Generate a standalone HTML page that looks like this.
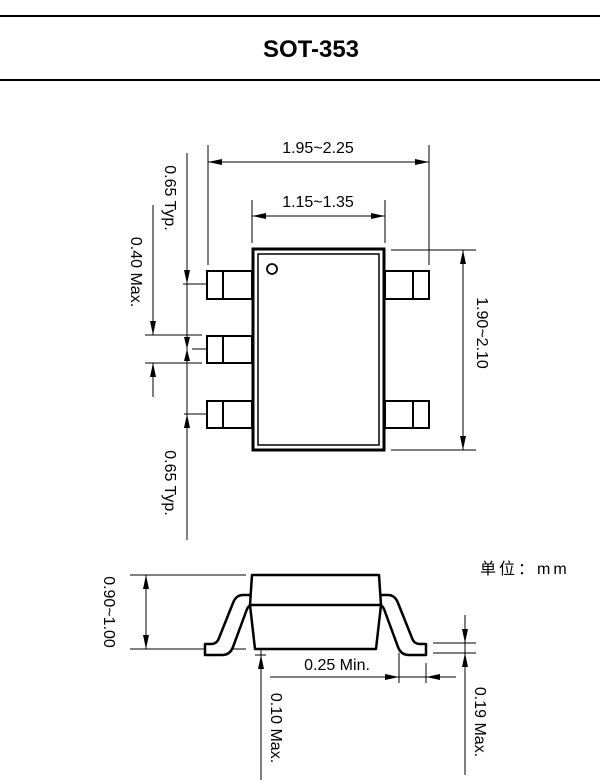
<!DOCTYPE html>
<html><head><meta charset="utf-8"><style>
html,body{margin:0;padding:0;background:#fff;width:600px;height:780px;overflow:hidden}
svg{display:block}
text{font-family:"Liberation Sans",Arial,sans-serif;fill:#000}
</style></head><body>
<svg width="600" height="780" viewBox="0 0 600 780" xmlns="http://www.w3.org/2000/svg">
<line x1="0" y1="16" x2="600" y2="16" stroke="#000" stroke-width="2"/>
<line x1="0" y1="80" x2="600" y2="80" stroke="#000" stroke-width="2"/>
<text x="311" y="57" font-size="24" font-weight="bold" text-anchor="middle">SOT-353</text>

<g stroke="#000" fill="none" stroke-width="1">
<line x1="208" y1="145" x2="208" y2="265"/>
<line x1="429" y1="145" x2="429" y2="265"/>
<line x1="208" y1="162" x2="429" y2="162"/>
<line x1="252" y1="200" x2="252" y2="243"/>
<line x1="385" y1="200" x2="385" y2="243"/>
<line x1="252" y1="216" x2="385" y2="216"/>
<line x1="391" y1="250" x2="476" y2="250"/>
<line x1="391" y1="450" x2="476" y2="450"/>
<line x1="463" y1="250" x2="463" y2="450"/>
<line x1="187" y1="153" x2="187" y2="540"/>
<line x1="183" y1="284" x2="207" y2="284"/>
<line x1="192" y1="349" x2="207" y2="349"/>
<line x1="184" y1="414" x2="207" y2="414"/>
<line x1="153" y1="205" x2="153" y2="335"/>
<line x1="153" y1="363" x2="153" y2="397"/>
<line x1="145" y1="335" x2="202" y2="335"/>
<line x1="145" y1="363" x2="202" y2="363"/>
<line x1="130" y1="575" x2="246" y2="575"/>
<line x1="130" y1="649" x2="246" y2="649"/>
<line x1="146" y1="575" x2="146" y2="649"/>
<line x1="261" y1="620" x2="261" y2="780"/>
<line x1="255" y1="655" x2="266" y2="655"/>
<line x1="399" y1="653" x2="399" y2="683"/>
<line x1="426" y1="663" x2="426" y2="683"/>
<line x1="270" y1="677" x2="456" y2="677"/>
<line x1="433" y1="643" x2="476" y2="643"/>
<line x1="433" y1="653" x2="476" y2="653"/>
<line x1="465" y1="615" x2="465" y2="775"/>
</g>
<g fill="#000">
<path d="M208,162 l14,-3 v6z"/><path d="M429,162 l-14,-3 v6z"/>
<path d="M252,216 l14,-3 v6z"/><path d="M385,216 l-14,-3 v6z"/>
<path d="M463,250 l-3,14 h6z"/><path d="M463,450 l-3,-14 h6z"/>
<path d="M187,284 l-3,-14 h6z"/>
<path d="M187,349 l-3,-12 h6z"/><path d="M187,349 l-3,12 h6z"/>
<path d="M187,414 l-3,14 h6z"/>
<path d="M153,335 l-3,-14 h6z"/><path d="M153,363 l-3,14 h6z"/>
<path d="M146,575 l-3,14 h6z"/><path d="M146,649 l-3,-14 h6z"/>
<path d="M261,649 l-3,-14 h6z"/><path d="M261,655 l-3,14 h6z"/>
<path d="M399,677 l-14,-3 v6z"/><path d="M426,677 l14,-3 v6z"/>
<path d="M465,643 l-3,-14 h6z"/><path d="M465,653 l-3,14 h6z"/>
</g>

<g stroke="#000" fill="#fff" stroke-width="2">
<rect x="207" y="271" width="45" height="28"/><line x1="223" y1="271" x2="223" y2="299"/>
<rect x="207" y="336" width="45" height="27"/><line x1="223" y1="336" x2="223" y2="363"/>
<rect x="207" y="401" width="45" height="27"/><line x1="223" y1="401" x2="223" y2="428"/>
<rect x="385" y="271" width="44" height="28"/><line x1="413" y1="271" x2="413" y2="299"/>
<rect x="385" y="401" width="44" height="27"/><line x1="413" y1="401" x2="413" y2="428"/>
<rect x="253" y="249" width="131" height="201" stroke-width="3"/>
<rect x="258" y="254" width="121" height="191" stroke-width="1.5"/>
<circle cx="272" cy="269" r="5" stroke-width="1.8"/>
</g>

<g stroke="#000" fill="#fff" stroke-width="2.5" stroke-linejoin="round">
<path d="M252,595 H243 Q236,595 233,603 L219,638 Q217,644 211,644 H205 V655 H222 Q230,655 233,647 L247,609 Q249,605 252,605 Z"/>
<path d="M379,595 H388 Q395,595 398,603 L412,638 Q414,644 420,644 H426 V655 H409 Q401,655 398,647 L384,609 Q382,605 379,605 Z"/>
<path d="M252,575 H379 L381,605 L376,649 H255 L250,605 Z"/>
<line x1="250" y1="605" x2="381" y2="605"/>
</g>

<g font-size="16">
<text x="318" y="153" text-anchor="middle">1.95~2.25</text>
<text x="318" y="207" text-anchor="middle">1.15~1.35</text>
<text transform="translate(477,333) rotate(90)" text-anchor="middle">1.90~2.10</text>
<text transform="translate(165,198) rotate(90)" text-anchor="middle">0.65 Typ.</text>
<text transform="translate(131,272) rotate(90)" text-anchor="middle">0.40 Max.</text>
<text transform="translate(165,483) rotate(90)" text-anchor="middle">0.65 Typ.</text>
<text transform="translate(104,612) rotate(90)" text-anchor="middle">0.90~1.00</text>
<text transform="translate(271,728) rotate(90)" text-anchor="middle">0.10 Max.</text>
<text transform="translate(475,722) rotate(90)" text-anchor="middle">0.19 Max.</text>
<text x="337" y="670" text-anchor="middle">0.25 Min.</text>
<text x="480" y="574" style="font-family:'Liberation Sans','Noto Sans CJK SC',sans-serif;letter-spacing:3px">单位：mm</text>
</g>
</svg>
</body></html>
